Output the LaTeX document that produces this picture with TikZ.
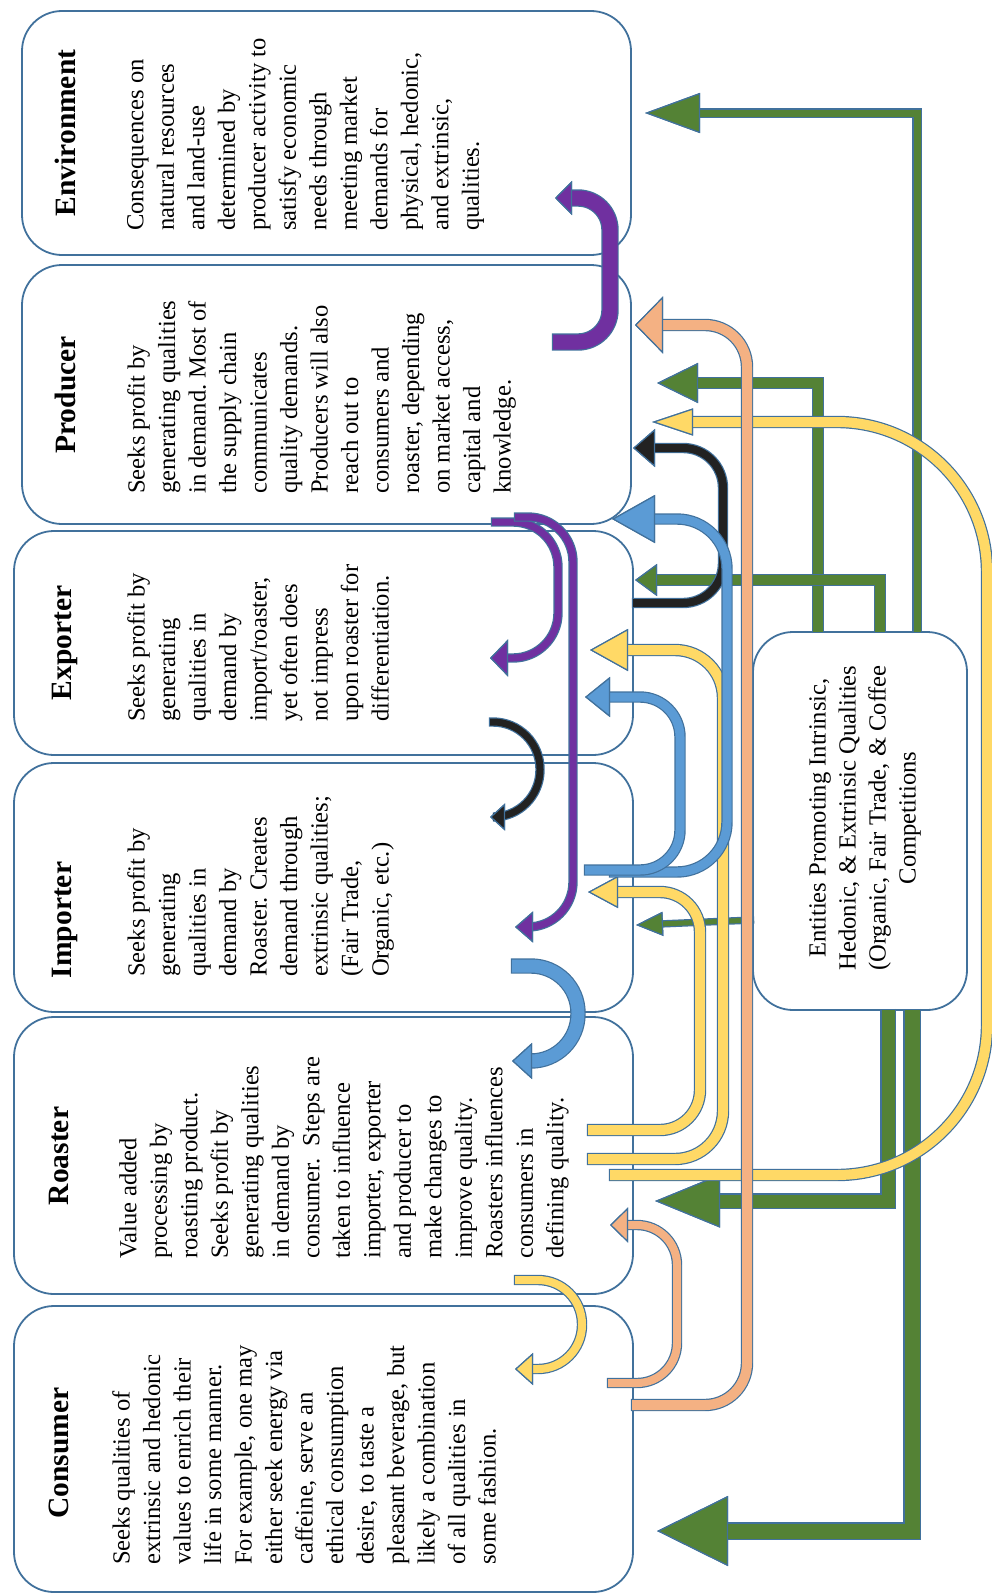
\documentclass[tikz,border=0pt]{standalone}
\usepackage{fontspec}
\setmainfont{Liberation Serif}
\usetikzlibrary{arrows.meta}
\frenchspacing

\definecolor{rimblue}{RGB}{65,113,156}
\definecolor{grn}{RGB}{84,130,53}
\definecolor{ylw}{RGB}{255,217,102}
\definecolor{org}{RGB}{244,177,131}
\definecolor{blu}{RGB}{91,155,213}
\definecolor{prp}{RGB}{112,48,160}
\definecolor{blk}{RGB}{34,34,34}

\tikzset{
  head/.style n args={3}{arrows={-Triangle[length=#2pt, width=#3pt, line width=1.2pt, fill=#1, color=rimblue]}},
  box/.style={draw=rimblue, line width=1.8pt, rounded corners=40pt, inner sep=0pt},
  title/.style={rotate=90, inner sep=0pt, font=\fontsize{29.5}{35}\selectfont\bfseries},
  body/.style={rotate=90, anchor=north west, inner sep=0pt, align=left, font=\fontsize{24.6}{30.5}\selectfont},
}

% colour, shaft, head length, head width, corners, path
\newcommand{\flow}[6]{%
  \draw[draw=rimblue, line width=#2pt+2.4pt, shorten <=-1.2pt, #5, head={#1}{#3}{#4}] #6;
  \draw[draw=#1, line width=#2pt, #5, head={#1}{#3}{#4}] #6;
}

\begin{document}
\begin{tikzpicture}[x=1pt, y=-1pt]
\useasboundingbox (0,0) rectangle (992,1595);

\node[box, minimum width=609pt, minimum height=244pt] (env) at (326.5,133) {};
\node[box, minimum width=609pt, minimum height=259pt] (prod) at (326.5,394.5) {};
\node[box, minimum width=619pt, minimum height=224pt] (expo) at (323.5,643) {};
\node[box, minimum width=619pt, minimum height=249pt] (impo) at (323.5,887.5) {};
\node[box, minimum width=619pt, minimum height=277pt] (roast) at (323.5,1155.5) {};
\node[box, minimum width=619pt, minimum height=286pt] (cons) at (323.5,1449) {};
\node[box, minimum width=214pt, minimum height=378pt] (ent) at (860,821) {};

\node[title] (envT) at (65,133) {Environment};
\node[title] (prodT) at (65,395) {Producer};
\node[title] (expoT) at (65,643) {Exporter};
\node[title] (impoT) at (65,920) {Importer};
\node[title] (roastT) at (59,1156) {Roaster};
\node[title] (consT) at (59,1453) {Consumer};

\node[body] (envB) at (127,231) {Consequences on\\natural resources\\and land-use\\determined by\\producer activity to\\satisfy economic\\needs through\\meeting market\\demands for\\physical, hedonic,\\and extrinsic,\\qualities.};
\node[body] (prodB) at (127,494) {Seeks profit by\\generating qualities\\in demand. Most of\\the supply chain\\communicates\\quality demands.\\Producers will also\\reach out to\\consumers and\\roaster, depending\\on market access,\\capital and\\knowledge.};
\node[body] (expoB) at (127,722) {Seeks profit by\\generating\\qualities in\\demand by\\import/roaster,\\yet often does\\not impress\\upon roaster for\\differentiation.};
\node[body] (impoB) at (127,977) {Seeks profit by\\generating\\qualities in\\demand by\\Roaster. Creates\\demand through\\extrinsic qualities;\\(Fair Trade,\\Organic, etc.)};
\node[body] (roastB) at (119,1259) {Value added\\processing by\\roasting product.\\Seeks profit by\\generating qualities\\in demand by\\consumer.\ \ Steps are\\taken to influence\\importer, exporter\\and producer to\\make changes to\\improve quality.\\Roasters influences\\consumers in\\defining quality.};
\node[body] (consB) at (112,1565) {Seeks qualities of\\extrinsic and hedonic\\values to enrich their\\life in some manner.\\For example, one may\\either seek energy via\\caffeine, serve an\\ethical consumption\\desire, to taste a\\pleasant beverage, but\\likely a combination\\of all qualities in\\some fashion.};
\node[rotate=90, align=center, inner sep=0pt, font=\fontsize{24.6}{30}\selectfont] (entB) at (865,818) {Entities Promoting Intrinsic,\\Hedonic, \& Extrinsic Qualities\\(Organic, Fair Trade, \& Coffee\\Competitions};

% green
\coordinate (gEnvT) at (917,632); \coordinate (gEnvH) at (645,113);
\coordinate (gProT) at (818,632); \coordinate (gProH) at (657,383);
\coordinate (gExpT) at (880,632); \coordinate (gExpH) at (635,580);
\coordinate (gImpT) at (753,920); \coordinate (gImpH) at (636,925);
\coordinate (gRoaT) at (888,1010); \coordinate (gRoaH) at (655,1201);
\coordinate (gConT) at (912,1010); \coordinate (gConH) at (657,1531);
\flow{grn}{7}{55}{40}{sharp corners}{(gEnvT) |- (gEnvH)}
\flow{grn}{10}{41}{40}{sharp corners}{(gProT) |- (gProH)}
\flow{grn}{10}{22}{32}{sharp corners}{(gExpT) |- (gExpH)}
\flow{grn}{5}{27}{24}{sharp corners}{(gImpT) -- (gImpH)}
\flow{grn}{13}{65}{53}{sharp corners}{(gRoaT) |- (gRoaH)}
\flow{grn}{15}{71}{70}{sharp corners}{(gConT) |- (gConH)}

% yellow
\coordinate (yImpT) at (588,1130); \coordinate (yImpH) at (588,892);
\coordinate (yExpT) at (588,1159); \coordinate (yExpH) at (590,650);
\coordinate (yProT) at (610,1175); \coordinate (yProH) at (652,422);
\coordinate (yConT) at (515,1280); \coordinate (yConH) at (515,1369);
\flow{ylw}{10}{30}{32}{rounded corners=40pt}{(yImpT) -- ++(112,0) |- (yImpH)}
\flow{ylw}{10}{38}{42}{rounded corners=48pt}{(yExpT) -- ++(135,0) |- (yExpH)}
\flow{ylw}{10}{41}{27}{rounded corners=150pt}{(yProT) -- ++(377,0) |- (yProH)}
\flow{ylw}{8}{18}{32}{rounded corners=44pt}{(yConT) -- ++(67,0) |- (yConH)}

% black
\coordinate (kProT) at (633,603); \coordinate (kProH) at (633,448);
\coordinate (kImpT) at (490,722); \coordinate (kImpH) at (490,817);
\flow{blk}{8}{22}{38}{rounded corners=40pt}{(kProT) -- ++(90,0) |- (kProH)}
\flow{blk}{7}{15}{27}{rounded corners=47pt}{(kImpT) -- ++(50,0) |- (kImpH)}

% purple
\coordinate (pEnvT) at (553,342); \coordinate (pEnvH) at (555,198);
\coordinate (pExpT) at (492,522); \coordinate (pExpH) at (490,658);
\coordinate (pImpT) at (515,517); \coordinate (pImpH) at (515,927);
\flow{prp}{15}{17}{34}{rounded corners=32pt}{(pEnvT) -- ++(57,0) |- (pEnvH)}
\flow{prp}{7}{18}{37}{rounded corners=45pt}{(pExpT) -- ++(66,0) |- (pExpH)}
\flow{prp}{7}{18}{31}{rounded corners=45pt}{(pImpT) -- ++(58,0) |- (pImpH)}

% blue
\coordinate (bProT) at (610,872); \coordinate (bProH) at (612,519);
\coordinate (bExpT) at (585,870); \coordinate (bExpH) at (585,697);
\coordinate (bRoaT) at (512,966); \coordinate (bRoaH) at (512,1061);
\flow{blu}{9}{43}{48}{rounded corners=50pt}{(bProT) -- ++(117,0) |- (bProH)}
\flow{blu}{9}{25}{40}{rounded corners=40pt}{(bExpT) -- ++(95,0) |- (bExpH)}
\flow{blu}{13}{20}{36}{rounded corners=47pt}{(bRoaT) -- ++(66,0) |- (bRoaH)}

% orange
\coordinate (oProT) at (632,1405); \coordinate (oProH) at (635,325);
\coordinate (oRoaT) at (608,1383); \coordinate (oRoaH) at (610,1225);
\flow{org}{10}{28}{57}{rounded corners=42pt}{(oProT) -- ++(115,0) |- (oProH)}
\flow{org}{8}{18}{35}{rounded corners=40pt}{(oRoaT) -- ++(69,0) |- (oRoaH)}
\end{tikzpicture}
\end{document}
